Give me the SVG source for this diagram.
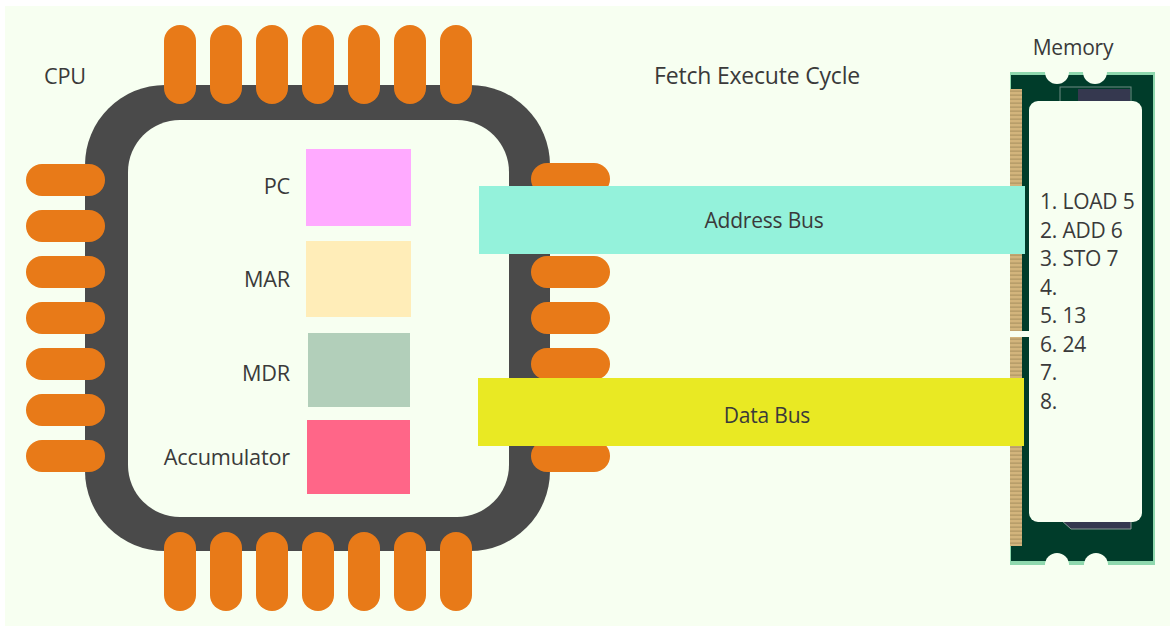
<svg xmlns="http://www.w3.org/2000/svg" width="1174" height="628" viewBox="0 0 1174 628">
<style>
text{font-family:"Open Sans","Noto Sans","Liberation Sans",sans-serif;font-size:21px;fill:#3a3a3a;letter-spacing:-.2px}
.pin{fill:#e87a18}
.bg{fill:#f7fff1}
.mid{text-anchor:middle}
.end{text-anchor:end}
.title{font-size:23px}
.big{font-size:21.7px}
</style>
<defs>
<rect id="v" class="pin" width="32" height="79" rx="16"/>
<rect id="h" class="pin" width="79" height="32" rx="16"/>
<pattern id="gold" width="12" height="4" patternUnits="userSpaceOnUse"><rect width="12" height="4" fill="#d2b47c"/><rect y="2.6" width="12" height="1" fill="#a88f5e"/></pattern>
</defs>
<rect width="1174" height="628" fill="#fff"/>
<rect class="bg" x="5" y="6" width="1165" height="620"/>
<g id="cpu">
<rect x="85" y="85" width="465" height="466" rx="80" fill="#4a4a4a"/>
<rect class="bg" x="128" y="120" width="381" height="397" rx="52"/>
<use href="#v" x="164" y="25"/><use href="#v" x="210" y="25"/><use href="#v" x="256" y="25"/><use href="#v" x="302" y="25"/><use href="#v" x="348" y="25"/><use href="#v" x="394" y="25"/><use href="#v" x="440" y="25"/>
<use href="#v" x="164" y="532"/><use href="#v" x="210" y="532"/><use href="#v" x="256" y="532"/><use href="#v" x="302" y="532"/><use href="#v" x="348" y="532"/><use href="#v" x="394" y="532"/><use href="#v" x="440" y="532"/>
<use href="#h" x="26" y="164"/><use href="#h" x="26" y="210"/><use href="#h" x="26" y="256"/><use href="#h" x="26" y="302"/><use href="#h" x="26" y="348"/><use href="#h" x="26" y="394"/><use href="#h" x="26" y="440"/>
<use href="#h" x="531" y="163"/><use href="#h" x="531" y="256"/><use href="#h" x="531" y="302"/><use href="#h" x="531" y="348"/><use href="#h" x="531" y="440"/>
<text class="big" x="44" y="84">CPU</text>
</g>
<g id="pc"><rect x="306" y="149" width="105" height="77" fill="#ffaaff"/><text class="end big" x="290" y="194">PC</text></g>
<g id="mar"><rect x="306" y="241" width="105" height="76" fill="#ffedb8"/><text class="end big" x="290" y="287">MAR</text></g>
<g id="mdr"><rect x="308" y="333" width="102" height="74" fill="#b2cfba"/><text class="end big" x="290" y="381">MDR</text></g>
<g id="accumulator"><rect x="307" y="420" width="103" height="74" fill="#ff6688"/><text class="end big" x="290" y="465">Accumulator</text></g>
<text class="mid title" x="757" y="84">Fetch Execute Cycle</text>
<g id="memory">
<rect x="1010" y="72" width="145" height="493" fill="#8fd8ae"/>
<rect x="1011" y="75" width="142" height="486" fill="#003c2a"/>
<circle class="bg" cx="1057" cy="72" r="12"/><circle class="bg" cx="1095" cy="72" r="12"/>
<circle class="bg" cx="1057" cy="565" r="12"/><circle class="bg" cx="1096" cy="565" r="12"/>
<rect x="1010" y="89" width="12" height="457" fill="url(#gold)"/>
<rect x="1060" y="87" width="71" height="16" fill="#003c2a" stroke="#6f8c84"/>
<rect x="1078" y="89" width="52" height="14" fill="#35384f"/>
<path d="M1061 520l10 9h60v-9z" fill="#35384f" stroke="#8a9a94"/>
<rect class="bg" x="1029" y="101" width="113" height="421" rx="9"/>
<path class="bg" d="M1010 331h19v6h-19z"/>
<text x="1040" y="209">1. LOAD 5</text>
<text x="1040" y="238">2. ADD 6</text>
<text x="1040" y="266">3. STO 7</text>
<text x="1040" y="295">4.</text>
<text x="1040" y="323">5. 13</text>
<text x="1040" y="352">6. 24</text>
<text x="1040" y="380">7.</text>
<text x="1040" y="409">8.</text>
<text class="mid" x="1073" y="55">Memory</text>
</g>
<g id="connectors">
<rect x="479" y="186" width="546" height="68" fill="#94f2db"/>
<rect x="478" y="378" width="546" height="68" fill="#e9e923"/>
<text class="mid" x="764" y="228">Address Bus</text>
<text class="mid" x="767" y="423">Data Bus</text>
</g>
</svg>
